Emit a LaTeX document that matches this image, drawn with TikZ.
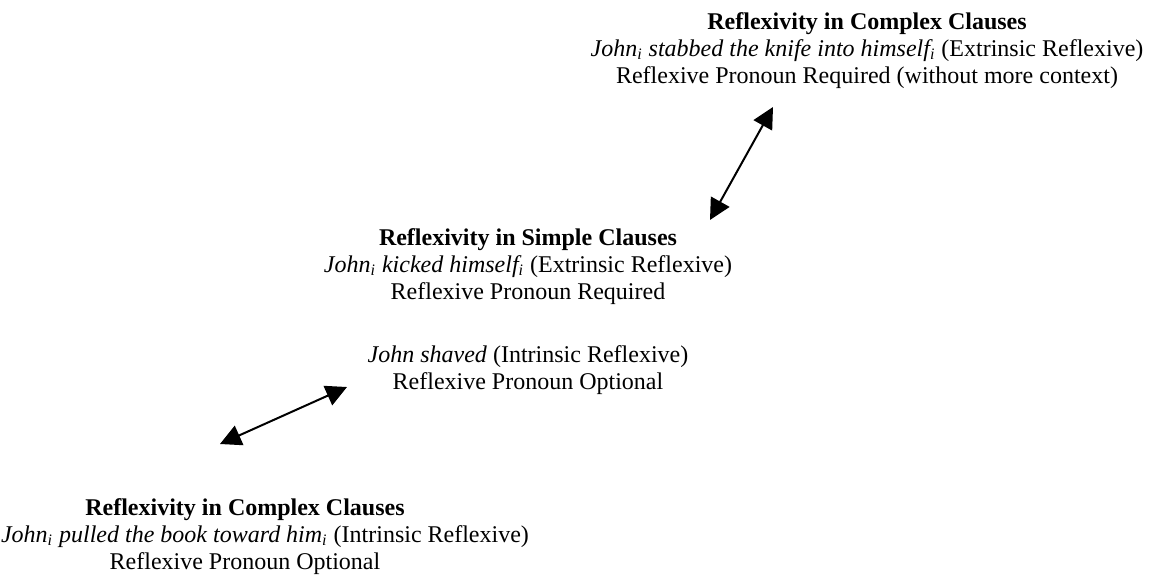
\documentclass[tikz,border=0pt]{standalone}
\usepackage{fontspec}
\setmainfont{Liberation Serif}
\usetikzlibrary{arrows.meta}
\begin{document}
\begin{tikzpicture}[x=0.5pt,y=-0.5pt,
  font=\fontsize{12}{13.5}\selectfont,
  blk/.style={align=center, inner sep=0pt, anchor=north},
  dbl/.style={{Triangle[length=10.5pt,width=10.5pt]}-{Triangle[length=10.5pt,width=10.5pt]}, line width=1pt}]
\useasboundingbox (0,0) rectangle (1155,575);
\node[blk] (top) at (867,12) {\textbf{Reflexivity in Complex Clauses}\\
  \textit{John\textsubscript{i} stabbed the knife into himself\textsubscript{i}} (Extrinsic Reflexive)\\
  Reflexive Pronoun Required (without more context)};
\node[blk] (mid) at (528,228) {\textbf{Reflexivity in Simple Clauses}\\
  \textit{John\textsubscript{i} kicked himself\textsubscript{i}} (Extrinsic Reflexive)\\
  Reflexive Pronoun Required\\[18pt]
  \textit{John shaved} (Intrinsic Reflexive)\\
  Reflexive Pronoun Optional};
\node[blk] (bot) at (245,498) {\textbf{Reflexivity in Complex Clauses}\\
  \hspace*{20pt}\textit{John\textsubscript{i} pulled the book toward him\textsubscript{i}} (Intrinsic Reflexive)\\
  Reflexive Pronoun Optional};
\coordinate (a1) at (710,220);
\coordinate (a2) at (773,107);
\coordinate (b1) at (220,444);
\coordinate (b2) at (347,387);
\draw[dbl] (a1) -- (a2);
\draw[dbl] (b1) -- (b2);
\end{tikzpicture}
\end{document}
